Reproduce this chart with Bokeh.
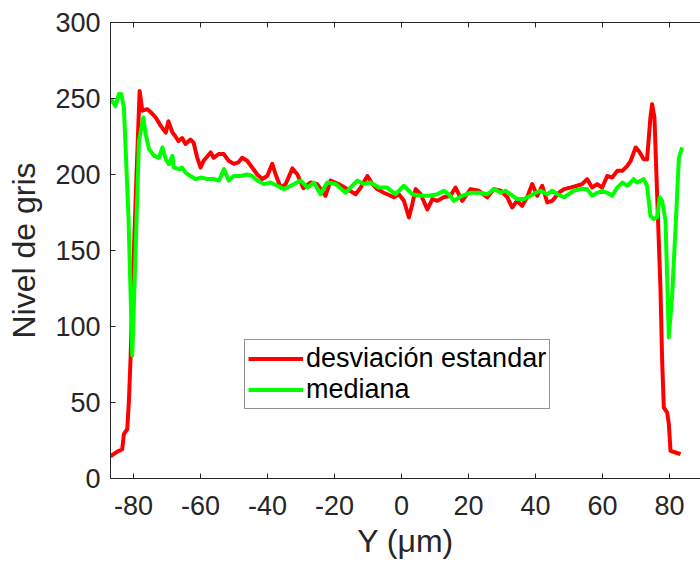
from bokeh.plotting import figure
from bokeh.models import LinearAxis, Legend, LegendItem, FixedTicker, Range1d
from bokeh.embed import file_html
from bokeh.resources import INLINE

# ---- data ----
red_x = [-86.9, -86.0, -84.6, -84.0, -83.4, -82.9, -81.9, -81.4, -80.9, -80.4, -79.3, -78.2,
         -77.4, -75.9, -74.9, -73.4, -71.9, -70.4, -69.6, -68.4, -67.5, -66.6, -65.5, -64.5,
         -63.0, -62.1, -61.0, -60.0, -59.1, -57.0, -56.1, -54.6, -53.1, -51.6, -50.1, -48.7,
         -47.6, -46.1, -44.6, -43.1, -41.6, -40.1, -38.6, -37.6, -36.1, -34.6, -32.6, -31.1,
         -29.3, -27.2, -25.2, -22.7, -21.2, -18.8, -16.2, -13.7, -12.2, -10.2, -8.7, -7.3,
         -5.3, -2.3, -0.8, 0.7, 2.2, 3.2, 4.2, 5.7, 7.7, 9.2, 10.7, 12.6, 14.6, 16.1, 18.1,
         20.6, 23.1, 25.6, 27.6, 29.6, 31.6, 33.0, 34.5, 36.0, 37.5, 39.0, 40.5, 42.0, 43.5,
         45.0, 47.0, 48.5, 50.4, 52.4, 53.9, 55.4, 56.9, 58.4, 59.9, 61.4, 62.9, 64.4, 65.9,
         67.4, 68.4, 69.9, 70.8, 72.3, 73.3, 74.3, 74.8, 75.5, 76.3, 77.3, 77.8, 78.3, 79.3,
         79.8, 80.3, 81.8, 83.3]
red_y = [14.6, 16, 18, 18.5, 19.3, 29.2, 32.5, 51, 79.6, 117, 190, 255,
         242, 243, 241, 237.5, 232, 227.6, 235, 227.6, 225, 222, 224, 220,
         223, 221, 211, 204.6, 209, 214.5, 211, 213.5, 213.5, 209, 207, 208,
         211, 209, 204.6, 200, 197, 199, 207, 200, 191.4, 193.7, 204, 200,
         191, 194.7, 193.7, 186, 196, 193.7, 190.4, 187, 191.4, 199, 193.7, 190.4,
         188, 185, 187, 182.7, 171.7, 180.5, 190.4, 187, 177, 183.8, 182.7, 185, 186, 191.4, 182.7,
         190.4, 189.3, 185, 190.4, 189.3, 185, 178.3, 182.7, 179.4, 185, 193.7, 186, 192.6, 181.6,
         182.7, 188, 190.4, 191.4, 192.6, 193.7, 197, 191.4, 193.7, 191.4, 199, 198, 202.4, 202.4,
         205.7, 209, 217.8, 215.6, 210, 210, 237.5, 246.3, 237.5, 187, 125, 77.4, 46.7, 43.4,
         35.8, 18.2, 17.1, 16]

green_x = [-86.9, -86.4, -85.4, -84.4, -83.7, -82.9, -81.5, -80.4, -79.4, -78.4, -77.1, -76.4,
           -75.4, -73.9, -72.4, -71.4, -70.4, -69.5, -68.4, -68.0, -66.5, -65.5, -64.5, -63.0,
           -61.5, -60.0, -58.0, -56.0, -54.5, -53.0, -51.6, -50.1, -48.1, -46.1, -44.6, -43.1,
           -41.1, -39.1, -37.1, -35.1, -34.1, -32.1, -30.1, -28.1, -26.2, -24.2, -22.2, -19.7,
           -16.7, -14.7, -13.2, -11.3, -9.3, -6.8, -4.3, -1.8, 0.7, 3.2, 5.7, 8.1, 10.7, 12.6,
           14.1, 15.6, 18.1, 20.6, 23.1, 25.6, 27.6, 29.6, 31.0, 32.5, 34.5, 36.5, 38.5, 40.0,
           41.5, 43.5, 45.0, 46.5, 48.5, 49.9, 51.4, 53.4, 55.4, 56.9, 58.4, 59.9, 61.4, 62.9,
           64.4, 65.9, 67.4, 68.4, 69.3, 70.3, 71.3, 72.3, 73.3, 73.8, 74.3, 75.3, 76.3, 77.1,
           77.8, 78.8, 79.8, 80.8, 81.8, 82.8, 83.3, 83.8]
green_y = [247, 248.5, 245, 253, 253, 244, 170, 81, 150, 222, 237.5, 226.6,
           216.7, 212.3, 211, 217.8, 210, 206.8, 212.3, 204.6, 203.5, 204.6, 201.3, 199,
           197, 198, 197, 197, 196, 203.5, 196, 199, 199, 200, 199, 196,
           193.7, 194.7, 192.6, 190.4, 191.4, 193.7, 196, 191.4, 194.7, 187, 194.7, 193.7,
           188, 192.6, 196, 193.7, 194.7, 191.4, 191.4, 187, 192.6, 187, 186, 186, 187, 189.3,
           187, 182.7, 186, 188, 188, 187, 190.4, 188, 189.3, 187, 183.8, 183.8, 186, 188,
           189.3, 187, 189.3, 187, 185, 187, 189.3, 190.4, 190.4, 186, 188, 189.3, 188, 186,
           191.4, 194.7, 192.6, 194.7, 197, 194.7, 195.8, 197, 192.6, 182.7, 172.8, 170.7, 171.7, 185,
           182.7, 169.6, 92.8, 121, 165, 211, 214.5, 217.8]

x_ticks = [-80, -60, -40, -20, 0, 20, 40, 60, 80]
y_ticks = [0, 50, 100, 150, 200, 250, 300]

series_names = ["desviación estandar", "mediana"]

FONT = "Liberation Sans"
TXT = "#262626"

p = figure(width=700, height=562, output_backend="svg", toolbar_location=None,
           x_range=Range1d(-86.9, 89.25), y_range=Range1d(0, 300),
           min_border_left=110, min_border_right=0, min_border_top=22, min_border_bottom=84,
           x_axis_location=None, y_axis_location=None)
p.outline_line_color = None
p.xgrid.visible = False
p.ygrid.visible = False
p.background_fill_color = "white"
p.border_fill_color = "white"

def style_axis(ax, labels=True):
    ax.axis_line_color = TXT
    ax.axis_line_width = 1
    ax.major_tick_line_color = TXT
    ax.major_tick_in = 5
    ax.major_tick_out = 0
    ax.minor_tick_line_color = None
    ax.major_label_text_font = FONT
    ax.major_label_text_color = TXT if labels else None
    ax.major_label_text_font_size = "27px" if labels else "1px"
    ax.axis_label_text_font = FONT
    ax.axis_label_text_color = TXT
    ax.axis_label_text_font_size = "32px"
    ax.axis_label_text_font_style = "normal"

xb = LinearAxis(ticker=FixedTicker(ticks=x_ticks), axis_label="Y (μm)",
                major_label_overrides={t: str(t) for t in x_ticks})
style_axis(xb)
xb.major_label_standoff = 17
xb.axis_label_standoff = 5
p.add_layout(xb, "below")

yl = LinearAxis(ticker=FixedTicker(ticks=y_ticks), axis_label="Nivel de gris",
                major_label_overrides={t: str(t) for t in y_ticks})
style_axis(yl)
yl.major_label_standoff = 10
yl.axis_label_standoff = 10
p.add_layout(yl, "left")

xt = LinearAxis(ticker=FixedTicker(ticks=x_ticks))
style_axis(xt, labels=False)
xt.major_label_standoff = 0
p.add_layout(xt, "above")

r_red = p.line(red_x, red_y, line_color="#ff0000", line_width=4, line_join="round")
r_green = p.line(green_x, green_y, line_color="#00ff00", line_width=4, line_join="round")

legend = Legend(items=[LegendItem(label=series_names[0], renderers=[r_red]),
                       LegendItem(label=series_names[1], renderers=[r_green])],
                location=(134, 69))
legend.label_text_font = FONT
legend.label_text_font_size = "27px"
legend.label_text_color = "#000000"
legend.glyph_width = 55
legend.glyph_height = 31
legend.label_height = 31
legend.label_standoff = 3
legend.spacing = 0
legend.padding = 3
legend.margin = 0
legend.border_line_color = TXT
legend.border_line_width = 1
legend.background_fill_alpha = 1
p.add_layout(legend, "center")

open("out.html", "w").write(file_html(p, INLINE))
